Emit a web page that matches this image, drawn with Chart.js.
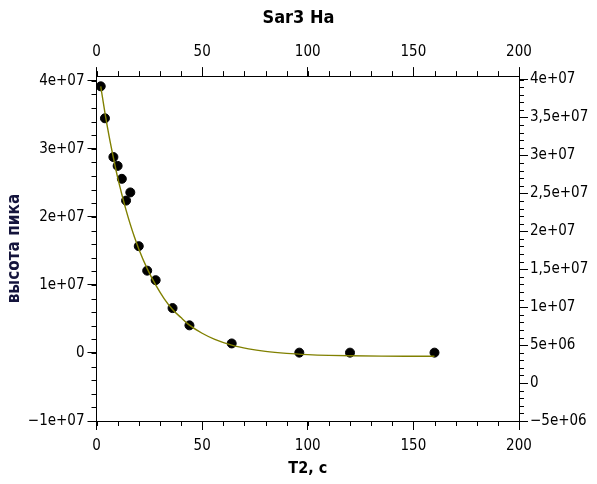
<!DOCTYPE html>
<html>
<head>
<meta charset="utf-8">
<script src="https://cdn.jsdelivr.net/npm/chart.js@4/dist/chart.umd.min.js"></script>
<style>
  html, body { margin: 0; padding: 0; background: #fff; }
  #wrap { width: 597px; height: 484px; }
</style>
</head>
<body>
<div id="wrap"><canvas id="c" width="597" height="484"></canvas></div>
<script>
// ---- data ----
const pointX = [2, 4, 8, 10, 12, 14, 16, 20, 24, 28, 36, 44, 64, 96, 120, 160];
const pointY = [39.2e6, 34.5e6, 28.8e6, 27.5e6, 25.6e6, 22.4e6, 23.6e6, 15.7e6, 12.1e6, 10.7e6, 6.6e6, 4.06e6, 1.4e6, 0.05e6, 0.05e6, 0.05e6];

const curveX = [2, 4, 6, 8, 10, 12, 14, 16, 18, 20, 24, 28, 32, 36, 40, 44, 50, 56, 64, 72, 80, 90, 100, 110, 120, 135, 150, 160];
const curveY = [39.2e6, 35.3e6, 31.8e6, 28.7e6, 25.8e6, 23.3e6, 21.0e6, 18.9e6, 17.0e6, 15.3e6, 12.4e6, 10.0e6, 8.0e6, 6.4e6, 5.2e6, 4.1e6, 2.9e6, 2.0e6, 1.15e6, 0.6e6, 0.23e6, -0.06e6, -0.24e6, -0.35e6, -0.41e6, -0.46e6, -0.48e6, -0.49e6];

const xTickValues = [0, 50, 100, 150, 200];
const xTickLabels = ['0', '50', '100', '150', '200'];
const leftTickValues = [-1e7, 0, 1e7, 2e7, 3e7, 4e7];
const leftTickLabels = ['\u22121e+07', '0', '1e+07', '2e+07', '3e+07', '4e+07'];
const rightTickValues = [-5e6, 0, 5e6, 1e7, 1.5e7, 2e7, 2.5e7, 3e7, 3.5e7, 4e7];
const rightTickLabels = ['\u22125e+06', '0', '5e+06', '1e+07', '1,5e+07', '2e+07', '2,5e+07', '3e+07', '3,5e+07', '4e+07'];

const chartTitle = 'Sar3 Ha';
const xTitle = 'T2, c';
const yTitle = 'высота пика';

// ---- chart ----
const FONT = "'DejaVu Sans Condensed', 'DejaVu Sans', sans-serif";
const minorSpec = { x: 10, x2: 10, y: 2e6, y2: 1e6 };
const MINOR_LEN = 5;

function fixedTicks(values) {
  return function (scale) { scale.ticks = values.map(v => ({ value: v })); };
}
function labelFrom(values, labels) {
  return function (value) {
    const i = values.findIndex(v => Math.abs(v - value) < 1e-6 * Math.max(1, Math.abs(v)));
    return i >= 0 ? labels[i] : '';
  };
}

const minorTicks = {
  id: 'minorTicks',
  afterDraw(chart) {
    const ctx = chart.ctx;
    ctx.save();
    ctx.strokeStyle = '#000';
    ctx.lineWidth = 1;
    ctx.beginPath();
    for (const id in minorSpec) {
      const s = chart.scales[id];
      const step = minorSpec[id];
      const k0 = Math.ceil(s.min / step - 1e-9), k1 = Math.floor(s.max / step + 1e-9);
      for (let k = k0; k <= k1; k++) {
        const v = k * step;
        const p = Math.round(s.getPixelForValue(v)) + 0.5;
        if (id === 'x') { ctx.moveTo(p, s.top); ctx.lineTo(p, s.top + MINOR_LEN); }
        else if (id === 'x2') { ctx.moveTo(p, s.bottom); ctx.lineTo(p, s.bottom - MINOR_LEN); }
        else if (id === 'y') { ctx.moveTo(s.right, p); ctx.lineTo(s.right - MINOR_LEN, p); }
        else { ctx.moveTo(s.left, p); ctx.lineTo(s.left + MINOR_LEN, p); }
      }
    }
    ctx.stroke();
    ctx.restore();
  }
};

const axisCommon = {
  grid: { display: true, drawOnChartArea: false, drawTicks: true, tickLength: 9, color: '#000', tickColor: '#000', lineWidth: 1 },
  border: { display: true, color: '#000', width: 1 },
};

new Chart(document.getElementById('c'), {
  type: 'scatter',
  data: {
    datasets: [
      {
        type: 'line',
        label: 'fit',
        data: curveX.map((x, i) => ({ x, y: curveY[i] })),
        borderColor: '#808000',
        borderWidth: 1.4,
        pointRadius: 0,
        fill: false,
        cubicInterpolationMode: 'monotone',
        order: 0,
        xAxisID: 'x', yAxisID: 'y'
      },
      {
        label: 'data',
        data: pointX.map((x, i) => ({ x, y: pointY[i] })),
        backgroundColor: '#000',
        borderColor: '#000',
        pointRadius: 4.5,
        pointHoverRadius: 4.5,
        order: 1,
        xAxisID: 'x', yAxisID: 'y'
      }
    ]
  },
  options: {
    responsive: false,
    animation: false,
    devicePixelRatio: 1,
    layout: { padding: { left: 0, right: 0, top: 0, bottom: 0 } },
    plugins: {
      legend: { display: false },
      tooltip: { enabled: false },
      title: {
        display: true, text: chartTitle, color: '#000',
        font: { family: FONT, size: 18, weight: 'bold' },
        padding: { top: 8, bottom: 5 }
      }
    },
    scales: {
      x: Object.assign({}, axisCommon, {
        type: 'linear', position: 'bottom', min: 0, max: 200,
        afterBuildTicks: fixedTicks(xTickValues),
        afterFit: s => { s.height = 63; },
        ticks: { callback: labelFrom(xTickValues, xTickLabels), color: '#000', font: { family: FONT, size: 15 }, padding: 7, maxRotation: 0 },
        title: { display: true, text: xTitle, color: '#000', font: { family: FONT, size: 16, weight: 'bold' }, padding: { top: 0, bottom: 6 } }
      }),
      x2: Object.assign({}, axisCommon, {
        type: 'linear', position: 'top', min: 0, max: 200,
        afterBuildTicks: fixedTicks(xTickValues),
        afterFit: s => { s.height = 41.5; },
        ticks: { callback: labelFrom(xTickValues, xTickLabels), color: '#000', font: { family: FONT, size: 15 }, padding: 6, maxRotation: 0 }
      }),
      y: Object.assign({}, axisCommon, {
        type: 'linear', position: 'left', min: -1e7, max: 4.07e7,
        afterBuildTicks: fixedTicks(leftTickValues),
        afterFit: s => { s.width = 96.5; },
        ticks: { callback: labelFrom(leftTickValues, leftTickLabels), color: '#000', font: { family: FONT, size: 15 }, padding: 3 },
        title: { display: true, text: yTitle, color: '#14143c', font: { family: FONT, size: 17, weight: 'bold' }, padding: { top: 4, bottom: 0 } }
      }),
      y2: Object.assign({}, axisCommon, {
        type: 'linear', position: 'right', min: -5e6, max: 4.045e7,
        afterBuildTicks: fixedTicks(rightTickValues),
        afterFit: s => { s.width = 78; },
        ticks: { callback: labelFrom(rightTickValues, rightTickLabels), color: '#000', font: { family: FONT, size: 15 }, padding: 2 }
      })
    }
  },
  plugins: [minorTicks]
});
</script>
</body>
</html>
